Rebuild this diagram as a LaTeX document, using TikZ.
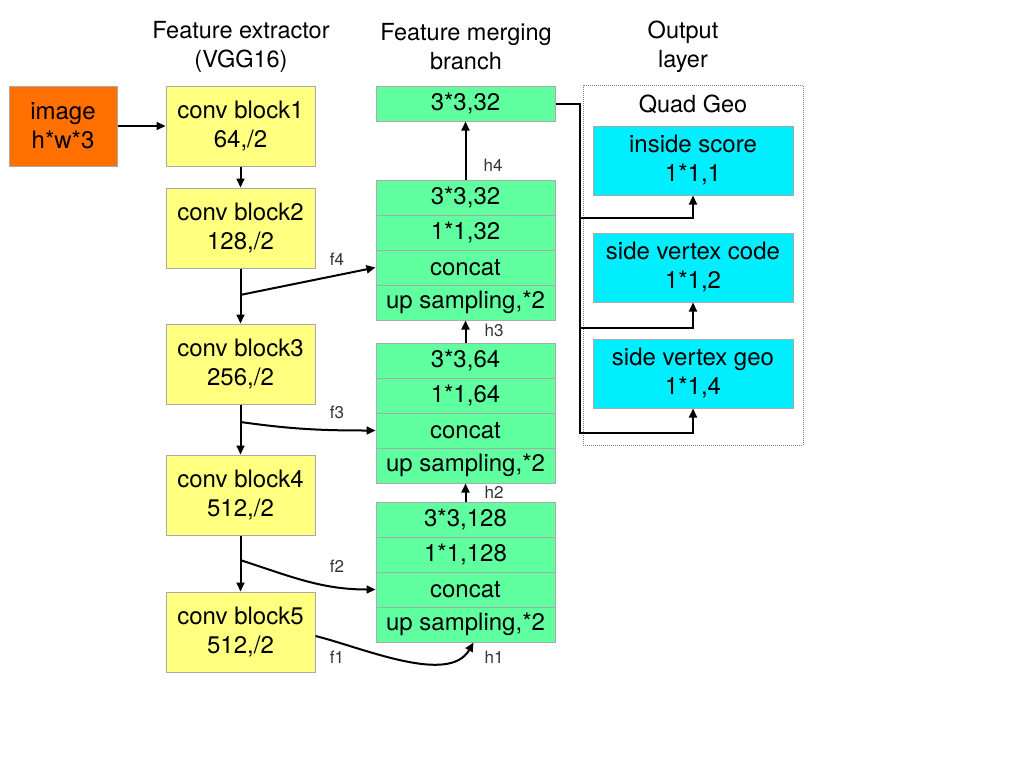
\documentclass[tikz,border=0pt]{standalone}
\usepackage{fontspec}
\setmainfont{TeX Gyre Heros}
\usetikzlibrary{arrows.meta,calc}

\definecolor{imgorange}{RGB}{255,112,0}
\definecolor{vggyellow}{RGB}{255,255,128}
\definecolor{mergegreen}{RGB}{96,255,160}
\definecolor{outcyan}{RGB}{0,238,255}
\definecolor{boxline}{RGB}{170,170,170}

\tikzset{
	block/.style={draw=boxline, line width=1pt, align=center, inner sep=0pt,
		minimum width=149pt, minimum height=80pt, font=\fontsize{24}{29}\selectfont},
	vggblock/.style={block, fill=vggyellow},
	layerbox/.style={block, fill=mergegreen, minimum width=179pt, minimum height=35pt},
	outbox/.style={block, fill=outcyan, minimum width=200pt, minimum height=69pt},
	title/.style={align=center, font=\fontsize{23.5}{29}\selectfont},
	tag/.style={font=\fontsize{17}{18}\selectfont, text=black!80},
	link/.style={line width=2pt, -{Triangle[length=9pt,width=8pt]}},
}

\begin{document}
\begin{tikzpicture}[x=1pt, y=-1pt]
			%%%%% FRAME %%%%%
			\useasboundingbox (0,0) rectangle (1024,768);
			
			\node[title] at (241,47) {Feature extractor\\(VGG16)};
			\node[title] at (466,47) {Feature merging\\branch};
			\node[title] at (683,47) {Output\\layer};
			
			%%%%% FEATURE EXTRACTOR %%%%%
			\node[block, fill=imgorange, minimum width=108pt] (img) at (63,126) {image\\h*w*3};
			
			\node[vggblock] (c1) at (240.5,126) {conv block1\\64,/2};
			\node[vggblock] (c2) at (240.5,228) {conv block2\\128,/2};
			\node[vggblock] (c3) at (240.5,364) {conv block3\\256,/2};
			\node[vggblock] (c4) at (240.5,495) {conv block4\\512,/2};
			\node[vggblock] (c5) at (240.5,632) {conv block5\\512,/2};
			
			\draw[link] (img) -- (c1);
			\draw[link] (c1) -- (c2);
			\draw[link] (c2) -- (c3);
			\draw[link] (c3) -- (c4);
			\draw[link] (c4) -- (c5);
			
			%%%%% MERGING BRANCH %%%%%
			\node[layerbox] (m0) at (465.5,103.5) {3*3,32};
			
			\foreach \g/\y/\ch in {4/197.5/32, 3/360.5/64, 2/519.5/128} {
				\node[layerbox] (m\g a) at (465.5,\y) {3*3,\ch};
				\node[layerbox] (m\g b) at (465.5,\y+35) {1*1,\ch};
				\node[layerbox] (m\g c) at (465.5,\y+70) {concat};
				\node[layerbox] (m\g d) at (465.5,\y+105) {up sampling,*2};
			}
			
			\draw[link] (m4a) -- (m0);
			\draw[link] (m3a) -- (m4d);
			\draw[link] (m2a) -- (m3d);
			
			\node[tag] at (493,165) {h4};
			\node[tag] at (494,330) {h3};
			\node[tag] at (494,492) {h2};
			\node[tag] at (494,657) {h1};
			
			% side branches from the VGG trunk
			\coordinate (f4) at ($(c2.south)!0.48!(c3.north)$);
			\coordinate (f3) at ($(c3.south)!0.35!(c4.north)$);
			\coordinate (f2) at ($(c4.south)!0.44!(c5.north)$);
			\coordinate (f1) at ($(c5.east)+(0,4)$);
			
			\draw[link] (f4) -- (m4c.west);
			\draw[link] (f3) to[out=-8, in=180] (m3c.west);
			\draw[link] (f2) to[out=-18, in=180] (m2c.west);
			\draw[link] (f1) to[out=-14, in=-120, looseness=0.8] ($(m2d.south)+(8,0)$);
			
			\node[tag] at (337,259) {f4};
			\node[tag] at (337,412) {f3};
			\node[tag] at (337,566) {f2};
			\node[tag] at (337,657) {f1};
			
			%%%%% OUTPUT LAYER %%%%%
			\node[draw=black!50, densely dotted, line width=1pt, minimum width=220pt,
				minimum height=360pt, inner sep=0pt] (quad) at (693,265) {};
			\node[title] at (693,104) {Quad Geo};
			
			\node[outbox] (o1) at (693,160.5) {inside score\\1*1,1};
			\node[outbox] (o2) at (693,267.5) {side vertex code\\1*1,2};
			\node[outbox] (o3) at (693,373.5) {side vertex geo\\1*1,4};
			
			\coordinate (split) at ($(m0.east)+(24,0)$);
			\draw[link] (m0.east) -- (split) |- ($(o1.south)+(0,22)$) -- (o1.south);
			\draw[link] (split) |- ($(o2.south)+(0,25)$) -- (o2.south);
			\draw[link] (split) |- ($(o3.south)+(0,24)$) -- (o3.south);
			
		\end{tikzpicture}
\end{document}
